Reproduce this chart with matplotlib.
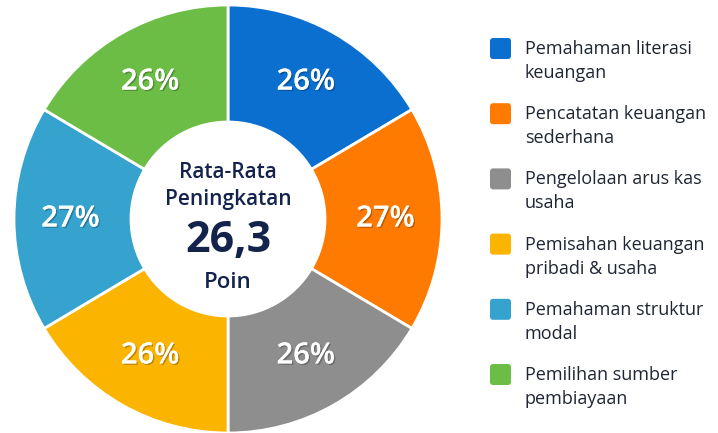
import numpy as np
import matplotlib
matplotlib.use("Agg")
import matplotlib.pyplot as plt
from matplotlib.patches import FancyBboxPatch, Circle
import matplotlib.patheffects as pe

plt.rcParams['font.family'] = ['Open Sans', 'DejaVu Sans']

# data
kategori = ["Pemahaman literasi\nkeuangan",
            "Pencatatan keuangan\nsederhana",
            "Pengelolaan arus kas\nusaha",
            "Pemisahan keuangan\npribadi & usaha",
            "Pemahaman struktur\nmodal",
            "Pemilihan sumber\npembiayaan"]
nilai = [26, 27, 26, 26, 27, 26]
warna = ["#0b6fd0", "#ff7a00", "#8e8e8e", "#fbb500", "#36a3cf", "#6cbd45"]
rata_rata = "26,3"

fig = plt.figure(figsize=(7.18, 4.33), dpi=100)
ax = fig.add_axes([0, 0, 1, 1])

cx, cy = 228, 214
R = 214
r_in = 97

wedges, _ = ax.pie(nilai, colors=warna, startangle=90, counterclock=False,
                   center=(cx, cy), radius=R, frame=True,
                   wedgeprops=dict(width=R - r_in, edgecolor='white', linewidth=2))
ax.set_xlim(0, 718)
ax.set_ylim(0, 433)
ax.set_aspect('equal')
ax.axis('off')

shadow = [pe.withSimplePatchShadow(offset=(1, -1), shadow_rgbFace='black', alpha=0.25), pe.Normal()]
for w, v in zip(wedges, nilai):
    mid = np.deg2rad((w.theta1 + w.theta2) / 2)
    rr = (R + r_in) / 2 + 2
    ax.text(cx + rr * np.cos(mid), cy + rr * np.sin(mid), f"{v}%",
            ha='center', va='center', color='white', fontsize=21,
            fontweight='semibold', path_effects=shadow)

ax.add_patch(Circle((cx, cy), r_in, color='white', zorder=3))

navy = "#13234b"
ax.text(cx, cy + 47, "Rata-Rata", ha='center', va='center', fontsize=15,
        fontweight='semibold', color=navy, zorder=4)
ax.text(cx, cy + 20, "Peningkatan", ha='center', va='center', fontsize=15,
        fontweight='semibold', color=navy, zorder=4)
ax.text(cx, cy - 22, rata_rata, ha='center', va='center', fontsize=31,
        fontweight='bold', color=navy, zorder=4)
ax.text(cx, cy - 63, "Poin", ha='center', va='center', fontsize=16,
        fontweight='semibold', color=navy, zorder=4)

# legenda
for i, (lab, c) in enumerate(zip(kategori, warna)):
    y_top = 433 - 49 - i * 65.2
    ax.add_patch(FancyBboxPatch((490, y_top - 10), 21, 21,
                                boxstyle="round,pad=0,rounding_size=3",
                                facecolor=c, edgecolor='none'))
    l1, l2 = lab.split("\n")
    ax.text(525, y_top, l1, ha='left', va='center', fontsize=13,
            fontweight='medium', color="#1f2633")
    ax.text(525, y_top - 24, l2, ha='left', va='center', fontsize=13,
            fontweight='medium', color="#1f2633")

fig.savefig("out.png", dpi=100, facecolor='white')
